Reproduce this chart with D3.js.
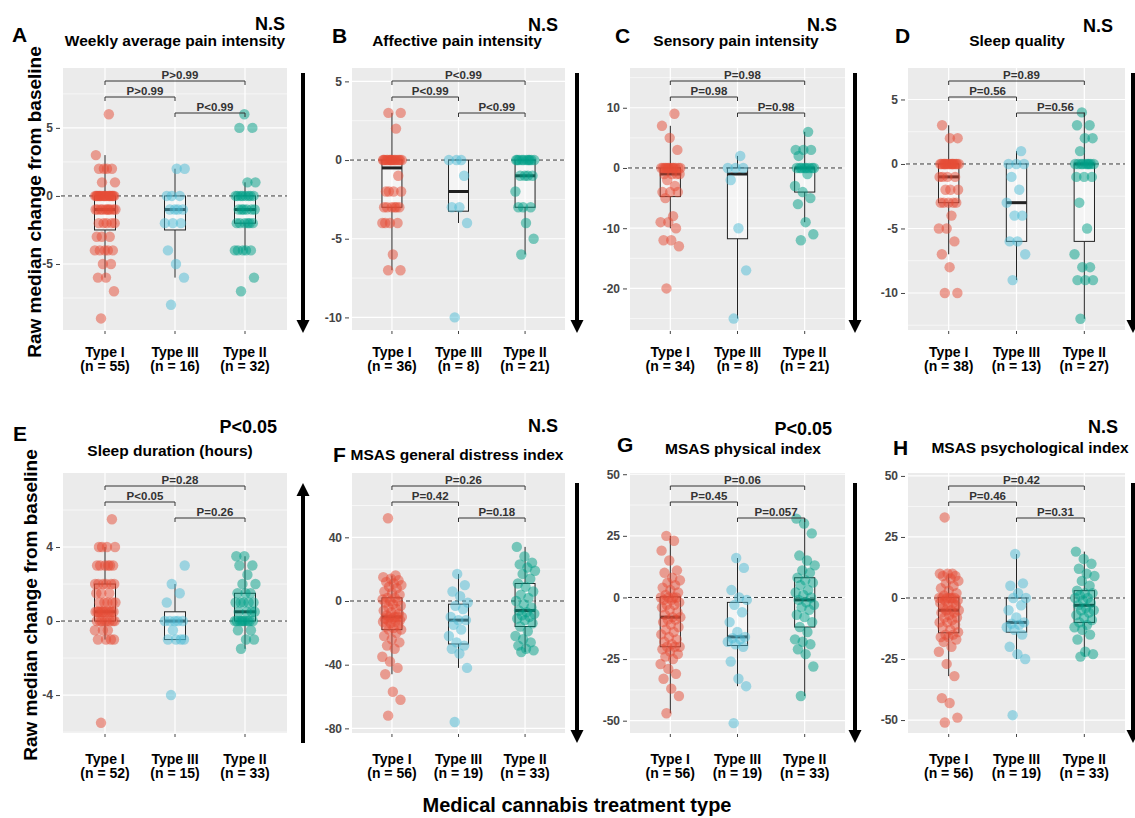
<!DOCTYPE html>
<html>
<head>
<meta charset="utf-8">
<script src="https://cdn.jsdelivr.net/npm/d3@7"></script>
<style>
  body { margin: 0; background: #fff; }
  text { font-family: "Liberation Sans", Arial, sans-serif; }
</style>
</head>
<body>
<svg id="chart" width="1135" height="818"></svg>
<script>
// ---- data ----
var groups = ['Type I', 'Type III', 'Type II'];
var groupColors = ['#E64B35', '#4DBBD5', '#00A087'];

var letters = ['A', 'B', 'C', 'D', 'E', 'F', 'G', 'H'];
var titles = ['Weekly average pain intensity', 'Affective pain intensity', 'Sensory pain intensity', 'Sleep quality',
              'Sleep duration (hours)', 'MSAS general distress index', 'MSAS physical index', 'MSAS psychological index'];
var overallP = ['N.S', 'N.S', 'N.S', 'N.S', 'P<0.05', 'N.S', 'P<0.05', 'N.S'];
var groupN = [[55, 16, 32], [36, 8, 21], [34, 8, 21], [38, 13, 27],
              [52, 15, 33], [56, 19, 33], [56, 19, 33], [56, 19, 33]];
var yTicks = [[-5, 0, 5], [-10, -5, 0, 5], [-20, -10, 0, 10], [-10, -5, 0, 5],
              [-4, 0, 4], [-80, -40, 0, 40], [-50, -25, 0, 25, 50], [-50, -25, 0, 25, 50]];
var yLimits = [[-9.85, 9.4], [-10.8, 5.85], [-26.9, 16.6], [-12.87, 7.44],
               [-6.05, 8.0], [-82.9, 80.4], [-55, 50.5], [-55.3, 51.2]];
// pairwise p: [Type I vs Type II, Type I vs Type III, Type III vs Type II]
var pairP = [['P>0.99', 'P>0.99', 'P<0.99'], ['P<0.99', 'P<0.99', 'P<0.99'],
             ['P=0.98', 'P=0.98', 'P=0.98'], ['P=0.89', 'P=0.56', 'P=0.56'],
             ['P=0.28', 'P<0.05', 'P=0.26'], ['P=0.26', 'P=0.42', 'P=0.18'],
             ['P=0.06', 'P=0.45', 'P=0.057'], ['P=0.42', 'P=0.46', 'P=0.31']];

// raw changes per group: [Type I, Type III, Type II]
var weeklyPain = [
  [-9, -7, -6, -6, -5, -5, -4, -4, -4, -4, -4, -3, -3, -3, -2, -2, -2, -2, -2,
   -1, -1, -1, -1, -1, -1, -1, -1, -1, -1, 0, 0, 0, 0, 0, 0, 0, 0, 0, 0, 0, 0, 0, 0, 0, 0, 0, 0,
   1, 1, 2, 2, 2, 2, 3, 6],
  [-8, -6, -5, -4, -2, -2, -2, -1, -1, -1, -1, 0, 0, 0, 2, 2],
  [-7, -6, -4, -4, -4, -4, -4, -2, -2, -2, -2, -2, -2, -1, -1, -1, -1, -1, -1,
   0, 0, 0, 0, 0, 0, 0, 0, 1, 1, 5, 5, 6]
];
var affectivePain = [
  [-7, -7, -6, -4, -4, -4, -4, -3, -3, -3, -3, -3, -3, -2, -2, -2, -2, -1,
   0, 0, 0, 0, 0, 0, 0, 0, 0, 0, 0, 0, 0, 0, 0, 2, 3, 3],
  [-10, -4, -3, -3, -1, 0, 0, 0],
  [-6, -5, -4, -3, -3, -3, -2, -1, -1, -1, -1, 0, 0, 0, 0, 0, 0, 0, 0, 0, 0]
];
var sensoryPain = [
  [-20, -13, -12, -12, -10, -9, -9, -8, -5, -4, -4, -4, -3, -2, -1, -1, -1, -1,
   0, 0, 0, 0, 0, 0, 0, 0, 0, 0, 0, 0, 3, 5, 7, 9],
  [-25, -17, -10, -2, 0, 0, 0, 2],
  [-12, -11, -9, -6, -5, -4, -3, -1, 0, 0, 0, 0, 0, 0, 0, 0, 2, 3, 3, 3, 6]
];
var sleepQuality = [
  [-10, -10, -8, -7, -6, -5, -5, -4, -3, -3, -3, -3, -3, -2, -2, -2, -1, -1, -1, -1,
   0, 0, 0, 0, 0, 0, 0, 0, 0, 0, 0, 0, 0, 0, 0, 2, 2, 3],
  [-9, -7, -6, -6, -4, -4, -3, -2, -1, 0, 0, 0, 1],
  [-12, -9, -9, -9, -8, -8, -7, -5, -3, -1, -1, -1, 0, 0, 0, 0, 0, 0, 0, 0, 0, 1, 2, 2, 3, 3, 4]
];
var sleepDuration = [
  [-5.5, -1, -1, -1, -1, -0.5, -0.5, -0.5, 0, 0, 0, 0, 0, 0, 0, 0,
   0.5, 0.5, 0.5, 0.5, 0.5, 0.5, 0.5, 0.5, 0.5, 0.5, 0.5, 1, 1, 1, 1, 1, 1.5, 1.5, 1.5,
   2, 2, 2, 2, 2, 2, 3, 3, 3, 3, 3, 3, 4, 4, 4, 4, 5.5],
  [-4, -1, -1, -1, -1, -0.5, 0, 0, 0, 0, 0, 1, 1.5, 2, 3],
  [-1.5, -1, -1, -0.5, -0.5, 0, 0, 0, 0, 0, 0, 0, 0, 0, 0.5, 0.5, 0.5, 0.5,
   1, 1, 1, 1, 1, 1.5, 1.5, 1.5, 2, 2, 2.5, 3, 3, 3.5, 3.5]
];
var distressIndex = [
  [-72, -62, -57, -46, -42, -38, -35, -30, -28, -26, -24, -22, -20, -18, -18, -17, -16, -15, -14,
   -13, -13, -12, -12, -11, -11, -10, -10, -10, -10, -9, -8, -7, -6, -5, -4, -3, -2, -1, 0, 0,
   1, 2, 2, 4, 5, 6, 8, 9, 10, 11, 12, 13, 14, 15, 16, 52],
  [-76, -42, -33, -30, -28, -26, -22, -18, -15, -12, -12, -10, -5, -3, -1, 3, 6, 10, 17],
  [-32, -31, -30, -28, -26, -24, -22, -19, -16, -14, -12, -11, -10, -9, -8, -7, -6, -4, -2,
   0, 2, 4, 6, 9, 11, 14, 17, 19, 21, 23, 24, 28, 34]
];
var physicalIndex = [
  [-47, -40, -37, -33, -31, -29, -27, -25, -24, -23, -22, -21, -20, -20, -20, -19, -18, -17, -16,
   -15, -14, -13, -12, -11, -10, -9, -9, -8, -8, -7, -6, -5, -4, -3, -3, -2, -1, -1, 0, 0, 0, 0,
   1, 2, 3, 4, 5, 6, 7, 8, 10, 11, 15, 19, 23, 25],
  [-51, -36, -33, -26, -20, -19, -18, -17, -16.5, -16, -14, -10, -6, -3, -1, 0, 3, 12, 16],
  [-40, -28, -23, -21, -19, -18, -17, -14, -12, -10, -8, -7, -5, -4, -3, -2, -1, 0, 1, 2, 3,
   5, 6, 7, 8, 10, 11, 13, 15, 17, 26, 30, 32]
];
var psychIndex = [
  [-51, -49, -43, -41, -32, -27, -22, -20, -18, -17, -16, -16, -15, -15, -14, -13, -12, -11,
   -10, -10, -9, -8, -8, -7, -6, -6, -5, -5, -5, -4, -3, -3, -2, -2, -1, -1, 0, 0, 0, 0, 0, 0,
   1, 2, 3, 4, 5, 6, 7, 8, 9, 9, 10, 10, 10, 33],
  [-48, -25, -23, -20, -15, -13, -12, -11, -10.5, -10, -8, -5, -3, 0, 0, 2, 5, 6, 18],
  [-24, -23, -22, -17, -15, -13, -12, -11, -10, -9, -8, -7, -6, -5, -5, -4, -3, -2, -1,
   0, 0, 1, 2, 2, 3, 5, 7, 9, 10, 12, 14, 16, 19]
];
var panelValues = [weeklyPain, affectivePain, sensoryPain, sleepQuality,
                   sleepDuration, distressIndex, physicalIndex, psychIndex];

// arrows between panels: direction per slot in each row
var arrowDirs = [['down', 'down', 'down', 'down'], ['up', 'down', 'down', 'down']];

// ---- layout ----
var colX = [[63, 287], [352, 565], [630, 845], [908, 1125]];
var rowY = [[68, 330], [473, 733]];
var arrowX = [303, 577, 855, 1133];
var arrowY = [[73, 333], [483, 743]];
var letterPos = [[12, 42], [332, 43], [615, 43], [895, 43], [13, 441], [333, 462], [617, 452], [893, 455]];
var titlePos = [[175, 46], [457, 46], [736, 46], [1017, 46], [170, 456], [457, 460], [743, 454], [1030, 453]];
var sigPos = [[285, 30], [558, 31], [837, 31], [1113, 32], [277, 433], [558, 432], [832, 435], [1118, 433]];
var catLabelY = [[357, 371], [764, 778]];
var bracketOffsets = [13, 29, 45];
var bracketPairs = [[0, 2], [0, 1], [1, 2]];

var svg = d3.select('#chart');

function boxStats(values) {
    var s = values.slice().sort(d3.ascending);
    var q1 = d3.quantile(s, 0.25);
    var med = d3.quantile(s, 0.5);
    var q3 = d3.quantile(s, 0.75);
    var iqr = q3 - q1;
    var lo = d3.min(s.filter(function (v) { return v >= q1 - 1.5 * iqr; }));
    var hi = d3.max(s.filter(function (v) { return v <= q3 + 1.5 * iqr; }));
    return { q1: q1, med: med, q3: q3, lo: lo, hi: hi };
}

function jitter(i) {
    var f = (i * 0.618034 + 0.31) % 1;
    return f - 0.5;
}

function drawPanel(p) {
    var row = Math.floor(p / 4);
    var col = p % 4;
    var left = colX[col][0], right = colX[col][1];
    var top = rowY[row][0], bottom = rowY[row][1];

    var x = d3.scalePoint().domain(groups).range([left, right]).padding(0.6);
    var y = d3.scaleLinear().domain(yLimits[p]).range([bottom, top]);
    var step = x.step();

    var g = svg.append('g').attr('class', 'panel');

    // background
    g.append('rect')
        .attr('x', left).attr('y', top)
        .attr('width', right - left).attr('height', bottom - top)
        .attr('fill', '#EBEBEB');

    // minor gridlines
    var ticks = yTicks[p];
    var tickStep = ticks[1] - ticks[0];
    var minors = [];
    for (var k = -1; k < ticks.length; k++) {
        var m = ticks[0] + (k + 0.5) * tickStep;
        if (m > yLimits[p][0] && m < yLimits[p][1]) minors.push(m);
    }
    g.selectAll('.minor').data(minors).enter().append('line')
        .attr('x1', left).attr('x2', right)
        .attr('y1', function (d) { return y(d); }).attr('y2', function (d) { return y(d); })
        .attr('stroke', '#fff').attr('stroke-width', 0.6);

    // major gridlines
    g.selectAll('.major').data(ticks).enter().append('line')
        .attr('x1', left).attr('x2', right)
        .attr('y1', function (d) { return y(d); }).attr('y2', function (d) { return y(d); })
        .attr('stroke', '#fff').attr('stroke-width', 1.2);
    g.selectAll('.vmajor').data(groups).enter().append('line')
        .attr('x1', function (d) { return x(d); }).attr('x2', function (d) { return x(d); })
        .attr('y1', top).attr('y2', bottom)
        .attr('stroke', '#fff').attr('stroke-width', 1.2);

    // y axis
    var yAxis = d3.axisLeft(y).tickValues(ticks).tickSize(4).tickPadding(3)
        .tickFormat(function (d) { return String(d); });
    var ya = g.append('g').attr('transform', 'translate(' + (left - 3) + ',0)').call(yAxis);
    ya.select('.domain').remove();
    ya.selectAll('.tick line').attr('stroke', '#444');
    ya.selectAll('.tick text')
        .attr('fill', '#444').style('font-size', '12px').style('font-weight', 'bold')
        .style('font-family', '"Liberation Sans", Arial, sans-serif');

    // x ticks
    g.selectAll('.xtick').data(groups).enter().append('line')
        .attr('x1', function (d) { return x(d); }).attr('x2', function (d) { return x(d); })
        .attr('y1', bottom + 1).attr('y2', bottom + 4)
        .attr('stroke', '#444');

    // category labels
    groups.forEach(function (gr, j) {
        var t = g.append('text')
            .attr('text-anchor', 'middle')
            .style('font-size', '14px').style('font-weight', 'bold')
            .attr('fill', '#000');
        t.append('tspan').attr('x', x(gr)).attr('y', catLabelY[row][0]).text(gr);
        t.append('tspan').attr('x', x(gr)).attr('y', catLabelY[row][1]).text('(n = ' + groupN[p][j] + ')');
    });

    // zero reference line
    g.append('line')
        .attr('x1', left - 2).attr('x2', right)
        .attr('y1', y(0)).attr('y2', y(0))
        .attr('stroke', '#333').attr('stroke-width', 1)
        .attr('stroke-dasharray', '4,3');

    // boxplots
    var bw = step * 0.3;
    panelValues[p].forEach(function (vals, j) {
        var s = boxStats(vals);
        var cx = x(groups[j]);
        g.append('line')
            .attr('x1', cx).attr('x2', cx)
            .attr('y1', y(s.hi)).attr('y2', y(s.q3))
            .attr('stroke', '#222').attr('stroke-width', 1);
        g.append('line')
            .attr('x1', cx).attr('x2', cx)
            .attr('y1', y(s.q1)).attr('y2', y(s.lo))
            .attr('stroke', '#222').attr('stroke-width', 1);
        g.append('rect')
            .attr('x', cx - bw / 2).attr('y', y(s.q3))
            .attr('width', bw).attr('height', Math.max(0, y(s.q1) - y(s.q3)))
            .attr('fill', '#fff').attr('fill-opacity', 0.45)
            .attr('stroke', '#222').attr('stroke-width', 1);
        g.append('line')
            .attr('x1', cx - bw / 2).attr('x2', cx + bw / 2)
            .attr('y1', y(s.med)).attr('y2', y(s.med))
            .attr('stroke', '#222').attr('stroke-width', 3);
    });

    // jittered points
    panelValues[p].forEach(function (vals, j) {
        var cx = x(groups[j]);
        g.selectAll('.pt' + j).data(vals).enter().append('circle')
            .attr('cx', function (d, i) { return cx + jitter(i) * step * 0.3; })
            .attr('cy', function (d) { return y(d); })
            .attr('r', 5.2)
            .attr('fill', groupColors[j])
            .attr('fill-opacity', 0.5);
    });

    // significance brackets
    bracketPairs.forEach(function (pr, k) {
        var xa = x(groups[pr[0]]), xb = x(groups[pr[1]]);
        var by = top + bracketOffsets[k];
        g.append('path')
            .attr('d', 'M' + xa + ',' + (by + 4) + 'V' + by + 'H' + xb + 'V' + (by + 4))
            .attr('fill', 'none').attr('stroke', '#333').attr('stroke-width', 1);
        g.append('text')
            .attr('x', (xa + xb) / 2 + 5).attr('y', by - 2)
            .attr('text-anchor', 'middle')
            .style('font-size', '11.5px').style('font-weight', 'bold')
            .attr('fill', '#333')
            .text(pairP[p][k]);
    });

    // panel letter, title, overall significance
    g.append('text')
        .attr('x', letterPos[p][0]).attr('y', letterPos[p][1])
        .style('font-size', '21px').style('font-weight', 'bold')
        .text(letters[p]);
    g.append('text')
        .attr('x', titlePos[p][0]).attr('y', titlePos[p][1])
        .attr('text-anchor', 'middle')
        .style('font-size', '15.5px').style('font-weight', 'bold')
        .text(titles[p]);
    g.append('text')
        .attr('x', sigPos[p][0]).attr('y', sigPos[p][1])
        .attr('text-anchor', 'end')
        .style('font-size', '18px').style('font-weight', 'bold')
        .text(overallP[p]);
}

d3.range(8).forEach(drawPanel);

// arrows
arrowDirs.forEach(function (dirs, r) {
    dirs.forEach(function (dir, c) {
        var ax = arrowX[c];
        var y0 = arrowY[r][0], y1 = arrowY[r][1];
        var tip = dir === 'down' ? y1 : y0;
        var tail = dir === 'down' ? y0 : y1;
        var sign = dir === 'down' ? -1 : 1;
        var headLen = 13, headW = 6.5;
        svg.append('line')
            .attr('x1', ax).attr('x2', ax)
            .attr('y1', tail).attr('y2', tip + sign * headLen)
            .attr('stroke', '#000').attr('stroke-width', 4);
        svg.append('path')
            .attr('d', 'M' + ax + ',' + tip + 'L' + (ax - headW) + ',' + (tip + sign * headLen) +
                       'L' + (ax + headW) + ',' + (tip + sign * headLen) + 'Z')
            .attr('fill', '#000');
    });
});

// shared axis titles
[[41, 202], [37, 605]].forEach(function (pos) {
    svg.append('text')
        .attr('transform', 'translate(' + pos[0] + ',' + pos[1] + ') rotate(-90)')
        .attr('text-anchor', 'middle')
        .style('font-size', '19px').style('font-weight', 'bold')
        .text('Raw median change from baseline');
});
svg.append('text')
    .attr('x', 577).attr('y', 812)
    .attr('text-anchor', 'middle')
    .style('font-size', '20px').style('font-weight', 'bold')
    .text('Medical cannabis treatment type');
</script>
</body>
</html>
